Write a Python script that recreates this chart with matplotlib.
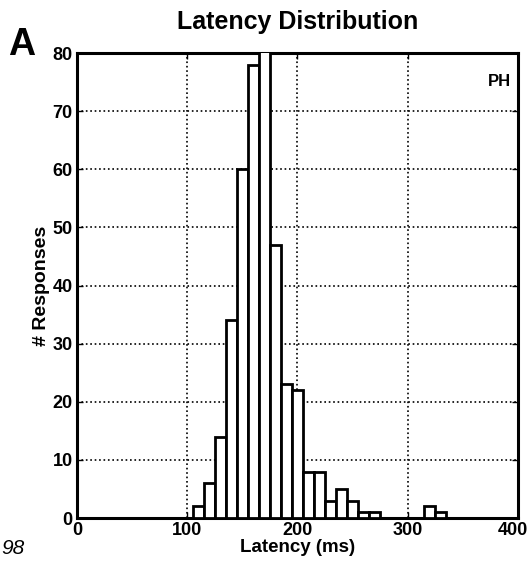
import matplotlib.pyplot as plt
import matplotlib.transforms as mtransforms

# latency bin centres (ms) and response counts
bin_centres = [110, 120, 130, 140, 150, 160, 170, 180, 190, 200, 210, 220,
               230, 240, 250, 260, 270, 280, 290, 300, 310, 320, 330, 340,
               350, 360, 370, 380, 390]
counts = [2, 6, 14, 34, 60, 78, 85, 47, 23, 22, 8, 8,
          3, 5, 3, 1, 1, 0, 0, 0, 0, 2, 1, 0,
          0, 0, 0, 0, 0]

x_ticks = [0, 100, 200, 300, 400]
y_ticks = [0, 10, 20, 30, 40, 50, 60, 70, 80]

plt.rcParams['font.family'] = ['Liberation Sans', 'DejaVu Sans']

fig = plt.figure(figsize=(5.3, 5.7), dpi=100)
ax = fig.add_axes([0.1453, 0.0912, 0.832, 0.8158])

ax.bar(bin_centres, counts, width=10, facecolor='white', edgecolor='black',
       linewidth=2, zorder=3)

ax.set_xlim(0, 400)
ax.set_ylim(0, 80)
ax.set_xticks(x_ticks)
ax.set_yticks(y_ticks)
ax.grid(True, linestyle=':', color='black', linewidth=1.2)
ax.set_axisbelow(True)

ax.tick_params(direction='in', length=4, width=1, labelsize=13, pad=3,
               top=True, right=True)
for lab in ax.get_xticklabels() + ax.get_yticklabels():
    lab.set_fontweight('bold')
for side in ax.spines.values():
    side.set_linewidth(2.2)

# nudge the last x tick label so it stays inside the figure
last = ax.get_xticklabels()[-1]
last.set_transform(last.get_transform() +
                   mtransforms.ScaledTranslation(-5 / 100, 0, fig.dpi_scale_trans))

ax.set_title('Latency Distribution', fontsize=18, fontweight='bold', pad=17)
ax.set_xlabel('Latency (ms)', fontsize=13.5, fontweight='bold', labelpad=0)
ax.set_ylabel('# Responses', fontsize=14, fontweight='bold', labelpad=2)

ax.text(0.985, 0.955, 'PH', transform=ax.transAxes, ha='right', va='top',
        fontsize=12, fontweight='bold')
fig.text(0.016, 0.9035, 'A', fontsize=27, fontweight='bold', ha='left',
         va='baseline')
fig.text(0.002, 0.038, '98', fontsize=15, style='italic', ha='left', va='center')

fig.savefig('out.png', dpi=100)
